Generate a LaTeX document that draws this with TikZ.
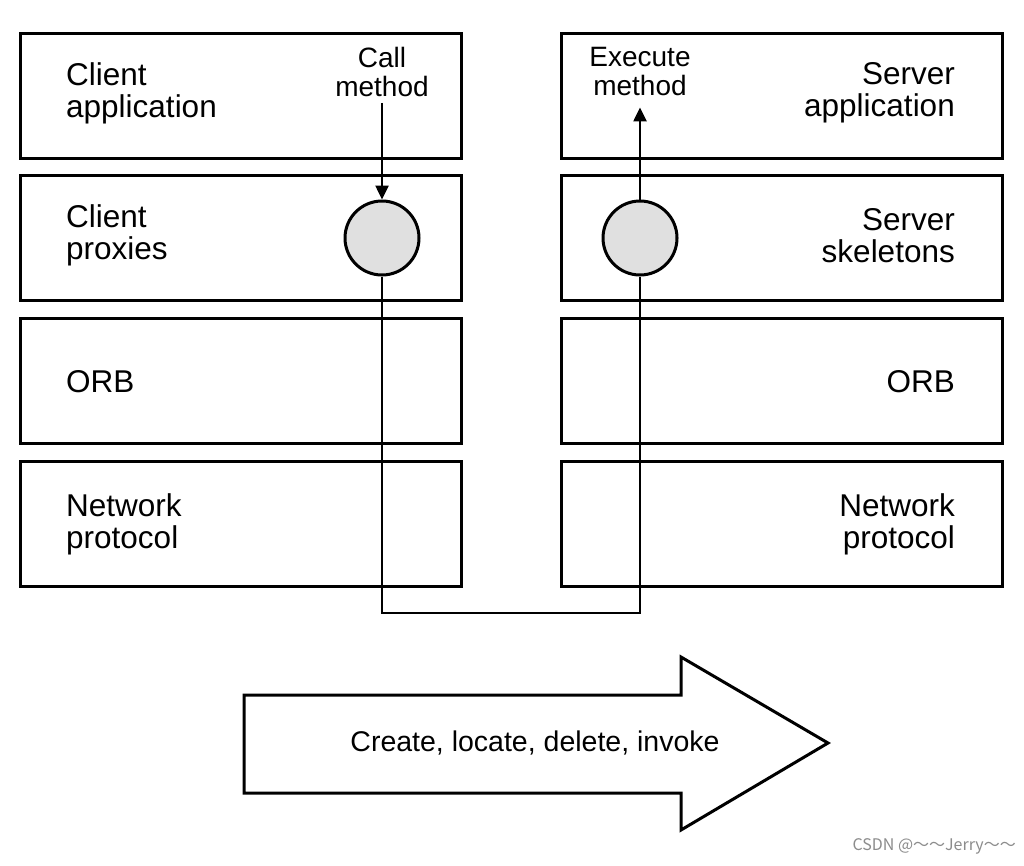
\documentclass[tikz,border=0pt]{standalone}
\usepackage{fontspec}
\setmainfont{Liberation Sans}
\newfontfamily\cjkfont{Noto Sans CJK SC}
\usetikzlibrary{arrows.meta}
\begin{document}
\begin{tikzpicture}[x=1pt,y=-1pt,
  layerbox/.style={draw=black, line width=3pt, minimum width=441pt, minimum height=125pt, inner sep=0pt},
  stub/.style={draw=black, line width=3pt, fill=black!12, circle, minimum size=74pt, inner sep=0pt},
  biglab/.style={font=\fontsize{31.5}{32}\selectfont, inner sep=0pt},
  smalllab/.style={font=\fontsize{28}{29}\selectfont, align=center, inner sep=0pt},
  conn/.style={line width=2.5pt},
  tip/.style={-{Triangle[length=14pt,width=13pt]}}
]
\useasboundingbox (0,0) rectangle (1024,865);
\fill[white] (0,0) rectangle (1024,865);
% left boxes
\node[layerbox] (l1) at (240.5,95.5) {};
\node[layerbox] (l2) at (240.5,238) {};
\node[layerbox] (l3) at (240.5,380.5) {};
\node[layerbox] (l4) at (240.5,523.5) {};
% right boxes
\node[layerbox] (r1) at (782,95.5) {};
\node[layerbox] (r2) at (782,238) {};
\node[layerbox] (r3) at (782,380.5) {};
\node[layerbox] (r4) at (782,523.5) {};
% labels left
\node[biglab, anchor=west, align=left] (tl1) at (66,93) {Client\\application};
\node[biglab, anchor=west, align=left] (tl2) at (66,235) {Client\\proxies};
\node[biglab, anchor=west, align=left] (tl3) at (66,382) {ORB};
\node[biglab, anchor=west, align=left] (tl4) at (66,524) {Network\\protocol};
% labels right
\node[biglab, anchor=east, align=right] (tr1) at (955,93) {Server\\application};
\node[biglab, anchor=east, align=right] (tr2) at (955,236) {Server\\skeletons};
\node[biglab, anchor=east, align=right] (tr3) at (955,382) {ORB};
\node[biglab, anchor=east, align=right] (tr4) at (955,524) {Network\\protocol};
% method labels
\node[smalllab, inner ysep=6pt] (cm) at (382,72) {Call\\method};
\node[smalllab, inner ysep=11pt] (em) at (640,72) {Execute\\method};
% stubs
\node[stub] (cs) at (382,238) {};
\node[stub] (ss) at (640,238) {};
% connectors
\draw[conn, tip] (cm.south) -- (cs.north);
\draw[conn, tip] (ss.north) -- (em.south);
\coordinate (b1) at (382,613);
\coordinate (b2) at (640,613);
\draw[conn] (cs.south) -- (b1) -- (b2) -- (ss.south);
% big arrow
\draw[line width=3pt, line join=miter] (244,695) -- (681,695) -- (681,657) -- (828,743) -- (681,830) -- (681,793) -- (244,793) -- cycle;
\node[font=\fontsize{28.5}{30}\selectfont, inner sep=0pt] (ops) at (535,743) {Create, locate, delete, invoke};
% watermark
\node[font=\cjkfont\fontsize{16}{18}\selectfont, text=black!45, anchor=east, inner sep=0pt] (wm) at (1016,846) {CSDN @～～Jerry～～};
\end{tikzpicture}
\end{document}
